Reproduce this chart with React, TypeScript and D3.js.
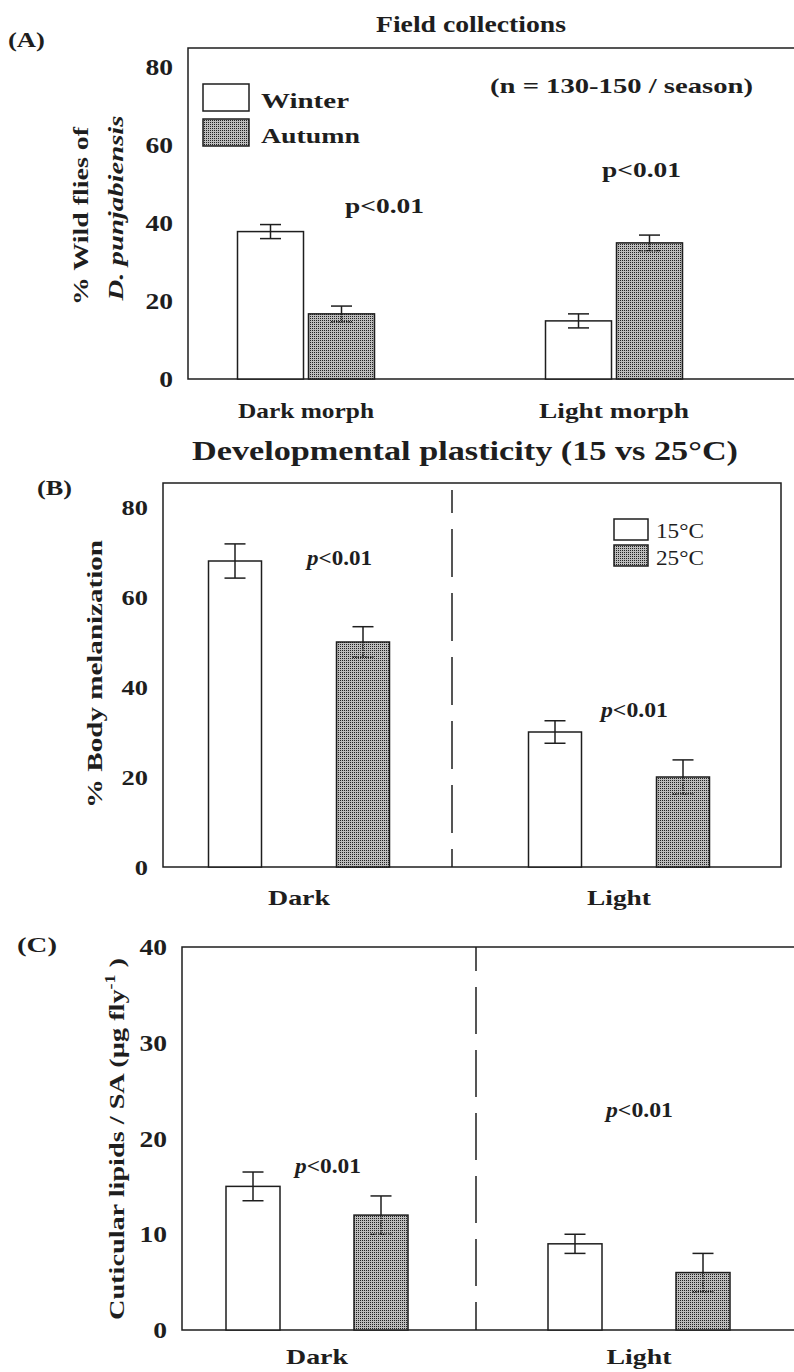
import React from 'react';
import * as d3 from 'd3';

// (A) field collections
const morphsA = ['Dark morph', 'Light morph'];
const seasons = ['Winter', 'Autumn'];
const winterPct = [37.8, 14.9];
const winterErr = [1.8, 1.8];
const autumnPct = [16.7, 34.9];
const autumnErr = [2.0, 2.0];
const ticksA = [0, 20, 40, 60, 80];

// (B) developmental plasticity
const morphsB = ['Dark', 'Light'];
const temps = ['15°C', '25°C'];
const melan15 = [68, 30];
const melan15Err = [3.8, 2.5];
const melan25 = [50, 20];
const melan25Err = [3.4, 3.8];
const ticksB = [0, 20, 40, 60, 80];

// (C) cuticular lipids
const lipid15 = [15, 9];
const lipid15Err = [1.5, 1];
const lipid25 = [12, 6];
const lipid25Err = [2, 2];
const ticksC = [0, 10, 20, 30, 40];

const FONT = '"Liberation Serif", "Times New Roman", Times, serif';
const INK = '#1e1e1e';

type TP = {
  x: number; y: number; w?: number; size?: number; bold?: boolean; italic?: boolean;
  anchor?: string; rot?: boolean; children?: React.ReactNode;
};
const T = ({ x, y, w, size = 22, bold = true, italic = false, anchor = 'start', rot = false, children }: TP) => (
  <text
    x={x} y={y} fontSize={size} fontWeight={bold ? 'bold' : 'normal'}
    fontStyle={italic ? 'italic' : 'normal'} textAnchor={anchor}
    textLength={w} lengthAdjust={w ? 'spacingAndGlyphs' : undefined}
    transform={rot ? `rotate(-90 ${x} ${y})` : undefined} fill={INK}
    style={{ fontFamily: FONT }}
  >{children}</text>
);

const Ticks = ({ y, ticks, right, size, sx }: any) => (
  <g>
    {ticks.map((t: number) => (
      <text key={t} transform={`translate(${right},${y(t)}) scale(${sx},1)`} dy="0.35em"
        textAnchor="end" fontSize={size} fontWeight="bold" fill={INK} style={{ fontFamily: FONT }}>{t}</text>
    ))}
  </g>
);

const Bars = ({ groups, series, values, errs, x, off, bw, y, cap = 21 }: any) => (
  <g>
    {groups.map((g: string, i: number) =>
      series.map((s: string, j: number) => {
        const v = values[j][i];
        const e = errs[j][i];
        const cx = x(g) + off(s);
        const filled = j === 1;
        return (
          <g key={g + s}>
            <rect x={cx - bw / 2} y={y(v)} width={bw} height={y(0) - y(v)}
              fill={filled ? 'url(#stip)' : '#fff'} stroke={INK} strokeWidth={1.5} />
            <line x1={cx} x2={cx} y1={y(v)} y2={y(v + e)} stroke={INK} strokeWidth={1.5} />
            <line x1={cx - cap / 2} x2={cx + cap / 2} y1={y(v + e)} y2={y(v + e)} stroke={INK} strokeWidth={1.5} />
            <line x1={cx} x2={cx} y1={y(v)} y2={y(v - e)} stroke={INK} strokeWidth={1.5}
              strokeDasharray={filled ? '1.5,1' : undefined} />
            <line x1={cx - cap / 2} x2={cx + cap / 2} y1={y(v - e)} y2={y(v - e)} stroke={INK}
              strokeWidth={1.5} strokeDasharray={filled ? '1.5,1' : undefined} />
          </g>
        );
      })
    )}
  </g>
);

const PVal = ({ x, y, w, italic }: any) => (
  <text x={x} y={y} fontSize={22} fontWeight="bold" fill={INK} textLength={w} lengthAdjust="spacingAndGlyphs"
    style={{ fontFamily: FONT }}>
    {italic ? <tspan fontStyle="italic">p</tspan> : 'p'}&lt;0.01
  </text>
);

export default function App() {
  // panel A scales
  const yA = d3.scaleLinear().domain([0, 80]).range([379, 67]);
  const xA = d3.scaleBand().domain(morphsA).range([152, 768]);
  const offA = d3.scalePoint().domain(seasons).range([-35.5, 35.5]);

  // panel B scales
  const yB = d3.scaleLinear().domain([0, 80]).range([867, 507]);
  const xB = d3.scaleBand().domain(morphsB).range([139, 779]);
  const offB = d3.scalePoint().domain(temps).range([-64, 64]);

  // panel C scales
  const yC = d3.scaleLinear().domain([0, 40]).range([1330, 947]);
  const xC = d3.scaleBand().domain(morphsB).range([156, 800]);
  const offC = d3.scalePoint().domain(temps).range([-64, 64]);

  const divB = xB('Light')! - 7;
  const divC = xC('Light')! - 2;

  return (
    <svg width={794} height={1372} style={{ position: 'absolute', left: 0, top: 0, background: '#fff' }}>
      <defs>
        <pattern id="stip" width={2} height={2} patternUnits="userSpaceOnUse">
          <rect width={2} height={2} fill="#bcbcbc" />
          <rect width={1} height={1} fill="#222" />
        </pattern>
      </defs>

      {/* ---------- (A) ---------- */}
      <T x={8} y={47} w={37}>(A)</T>
      <T x={376} y={32} w={190} size={23}>Field collections</T>
      <path d={`M794,48 H188 V379 H794`} fill="none" stroke={INK} strokeWidth={1.5} />
      <Ticks y={yA} ticks={ticksA} right={173} size={24} sx={1.15} />
      <T x={88} y={216} w={178} rot anchor="middle">% Wild flies of</T>
      <T x={123} y={208} w={185} rot anchor="middle" italic>D. punjabiensis</T>
      <Bars groups={morphsA} series={seasons} values={[winterPct, autumnPct]} errs={[winterErr, autumnErr]}
        x={(g: string) => xA(g)! + xA.bandwidth() / 2} off={(s: string) => offA(s)!} bw={66} y={yA} />
      <rect x={203} y={84} width={46} height={27} fill="#fff" stroke={INK} strokeWidth={1.5} />
      <rect x={203} y={119} width={46} height={27} fill="url(#stip)" stroke={INK} strokeWidth={1.5} />
      <T x={261} y={108} w={88}>{seasons[0]}</T>
      <T x={261} y={143} w={99}>{seasons[1]}</T>
      <T x={490} y={93} w={263}>(n = 130-150 / season)</T>
      <PVal x={345} y={213} w={79} />
      <PVal x={602} y={177} w={79} />
      {morphsA.map((g, i) => (
        <T key={g} x={xA(g)! + xA.bandwidth() / 2} y={418} w={i === 0 ? 136 : 150} anchor="middle">{g}</T>
      ))}

      {/* ---------- (B) ---------- */}
      <T x={192} y={460} w={546} size={28}>Developmental plasticity (15 vs 25°C)</T>
      <T x={37} y={495} w={35}>(B)</T>
      <rect x={163} y={483} width={618} height={384} fill="none" stroke={INK} strokeWidth={1.5} />
      <line x1={divB} x2={divB} y1={483} y2={867} stroke={INK} strokeWidth={1.5}
        strokeDasharray="0,7,23,16,48,16,48,16,48,16,48,16,48,16,64" />
      <Ticks y={yB} ticks={ticksB} right={148} size={22} sx={1.2} />
      <T x={102} y={674} w={268} rot anchor="middle">%  Body melanization</T>
      <Bars groups={morphsB} series={temps} values={[melan15, melan25]} errs={[melan15Err, melan25Err]}
        x={(g: string) => xB(g)! + xB.bandwidth() / 2} off={(s: string) => offB(s)!} bw={53} y={yB} />
      <rect x={614} y={519} width={34} height={21} fill="#fff" stroke={INK} strokeWidth={1.5} />
      <rect x={614} y={545} width={34} height={21} fill="url(#stip)" stroke={INK} strokeWidth={1.5} />
      <T x={656} y={538} w={48} size={21} bold={false}>{temps[0]}</T>
      <T x={656} y={565} w={48} size={21} bold={false}>{temps[1]}</T>
      <PVal x={307} y={565} w={65} italic />
      <PVal x={601} y={717} w={67} italic />
      {morphsB.map((g, i) => (
        <T key={g} x={xB(g)! + xB.bandwidth() / 2} y={905} w={i === 0 ? 62 : 64} anchor="middle">{g}</T>
      ))}

      {/* ---------- (C) ---------- */}
      <T x={17} y={952} w={40}>(C)</T>
      <path d={`M794,947 H182 V1330 H794`} fill="none" stroke={INK} strokeWidth={1.5} />
      <line x1={divC} x2={divC} y1={947} y2={1330} stroke={INK} strokeWidth={1.5}
        strokeDasharray="24,16,47,16,47,16,47,16,47,16,47,16,47" />
      <Ticks y={yC} ticks={ticksC} right={167} size={23} sx={1.2} />
      <text transform="translate(124,1139) rotate(-90)" textAnchor="middle" fontSize={22} fontWeight="bold"
        fill={INK} textLength={362} lengthAdjust="spacingAndGlyphs" style={{ fontFamily: FONT }}>
        Cuticular lipids / SA (µg fly<tspan dy={-9} fontSize={14}>-1</tspan><tspan dy={9}> )</tspan>
      </text>
      <Bars groups={morphsB} series={temps} values={[lipid15, lipid25]} errs={[lipid15Err, lipid25Err]}
        x={(g: string) => xC(g)! + xC.bandwidth() / 2} off={(s: string) => offC(s)!} bw={54} y={yC} />
      <PVal x={295} y={1173} w={66} italic />
      <PVal x={606} y={1117} w={67} italic />
      {morphsB.map((g, i) => (
        <T key={g} x={xC(g)! + xC.bandwidth() / 2} y={1364} w={i === 0 ? 62 : 65} size={21} anchor="middle">{g}</T>
      ))}
    </svg>
  );
}
